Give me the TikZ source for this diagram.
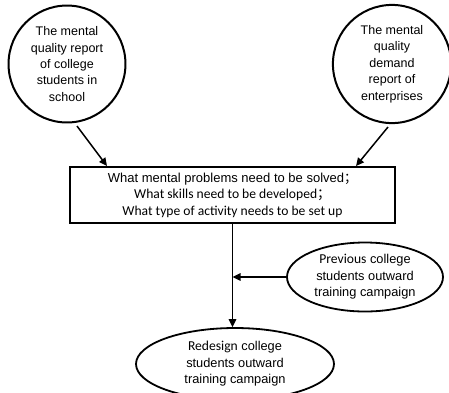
\documentclass[tikz,border=0pt]{standalone}
\usepackage{fontspec}
\setmainfont{Liberation Sans}
\newfontfamily\calfont{Carlito}
\newfontfamily\cjkfont{Noto Sans CJK SC}
\usetikzlibrary{arrows.meta,shapes.geometric}
\begin{document}
\begin{tikzpicture}[x=1pt,y=-1pt,
  circ/.style={draw,circle,line width=2pt,inner sep=0pt,align=center,
    font=\fontsize{12.5}{16.4}\selectfont},
  ell/.style={draw,ellipse,line width=1.8pt,inner sep=0pt,align=center,
    font=\fontsize{12.8}{16.5}\selectfont},
  boxst/.style={draw,rectangle,line width=2pt,inner sep=0pt,align=center,
    font=\fontsize{13}{17}\selectfont},
  arr/.style={line width=1.5pt,-{Triangle[length=8pt,width=7.5pt]}},
  ln/.style={line width=1.5pt}]
\useasboundingbox (0,0) rectangle (449,392);
\node[circ,minimum size=116pt] (lc) at (67,64)
  {\raisebox{-3pt}{\parbox{90pt}{\centering The mental\\quality report\\of college\\students in\\school}}};
\node[circ,minimum size=112pt] (rc) at (392,64)
  {\raisebox{-3pt}{\parbox{90pt}{\centering The mental\\quality\\demand\\report of\\enterprises}}};
\node[boxst,minimum width=325pt,minimum height=56pt] (box) at (232.5,195)
  {\parbox{320pt}{\centering\fontsize{13}{18}\selectfont
   What mental problems need to be solved{\cjkfont ；}\\
   {\calfont\fontsize{13.6}{16.5}\selectfont What skills need to be developed{\cjkfont ；}\\
   What type of activity needs to be set up\par}}};
\node[ell,minimum width=156pt,minimum height=69pt] (prev) at (365,277)
  {{\calfont\fontsize{13.6}{16}\selectfont Previous} college\\students outward\\training campaign};
\node[ell,minimum width=154pt,minimum height=72pt] (red) at (235,364)
  {\raisebox{-3pt}{\parbox{140pt}{\centering{\calfont\fontsize{13.6}{16}\selectfont Redesign} college\\students outward\\training campaign}}};
\coordinate (la) at (77,126);
\coordinate (ra) at (388,127);
\coordinate (lt) at (107,166);
\coordinate (rt) at (356,166);
\coordinate (mid) at (box.south |- prev.west);
\draw[arr] (la) -- (lt);
\draw[arr] (ra) -- (rt);
\draw[arr] (box.south) -- (box.south |- red.north);
\draw[arr] (prev.west) -- (mid);
\end{tikzpicture}
\end{document}
